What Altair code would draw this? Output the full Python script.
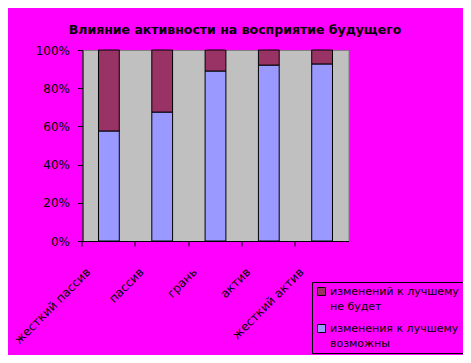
import altair as alt
import pandas as pd

categories = ["жесткий пассив", "пассив", "грань", "актив", "жесткий актив"]
possible = [57.6, 67.5, 89.0, 92.1, 92.7]
not_better = [42.4, 32.5, 11.0, 7.9, 7.3]
series = ["изменений к лучшему\nне будет", "изменения к лучшему\nвозможны"]
colors = ["#993366", "#9999FF"]

rows = []
for c, p, n in zip(categories, possible, not_better):
    rows.append({"cat": c, "series": series[1], "value": p, "ord": 0})
    rows.append({"cat": c, "series": series[0], "value": n, "ord": 1})
df = pd.DataFrame(rows)

FONT = "DejaVu Sans"

chart = alt.Chart(df).mark_bar(stroke="black", strokeWidth=1).encode(
    x=alt.X("cat:N", sort=categories, title=None,
            scale=alt.Scale(paddingInner=0.61, paddingOuter=0.3),
            axis=alt.Axis(bandPosition=-0.785, labelAngle=-45, labelAlign="right",
                          labelBaseline="top", labelOffset=-24, labelPadding=20,
                          tickSize=5, tickColor="black", domainColor="black",
                          labelFont=FONT, labelFontSize=12, labelColor="black")),
    y=alt.Y("value:Q", stack=True, title=None,
            scale=alt.Scale(domain=[0, 100], nice=False),
            axis=alt.Axis(values=[0, 20, 40, 60, 80, 100], labelExpr="datum.value + '%'",
                          grid=False, tickSize=5, tickColor="black", domainColor="black",
                          labelPadding=8, labelFont=FONT, labelFontSize=12,
                          labelColor="black")),
    color=alt.Color("series:N", scale=alt.Scale(domain=series, range=colors), title=None,
                    legend=alt.Legend(orient="none", legendX=229.5, legendY=232,
                                      labelExpr="split(datum.label, '\\n')",
                                      symbolType="square", symbolSize=64,
                                      symbolStrokeColor="black", symbolStrokeWidth=1,
                                      symbolOpacity=1,
                                      labelFont=FONT, labelFontSize=11, labelColor="black",
                                      labelLimit=300,
                                      strokeColor="black", fillColor="#FF00FF",
                                      padding=4, rowPadding=10, labelOffset=3)),
    order=alt.Order("ord:Q"),
).properties(
    width=266, height=191,
    title=alt.TitleParams("Влияние активности на восприятие будущего",
                          font=FONT, fontSize=12.5, fontWeight="bold", color="black",
                          anchor="middle", frame="group", dx=19.5, offset=8),
    padding={"left": 74.5, "top": 42, "right": 114.5, "bottom": 114},
    autosize=alt.AutoSizeParams(type="none"),
    background="#FF00FF",
).configure(
    style={"guide-label": {"lineHeight": 15.5}}
).configure_view(fill="#C0C0C0", stroke="#808080", strokeWidth=1)

chart.save("out.html", embed_options={"renderer": "svg", "actions": False})
